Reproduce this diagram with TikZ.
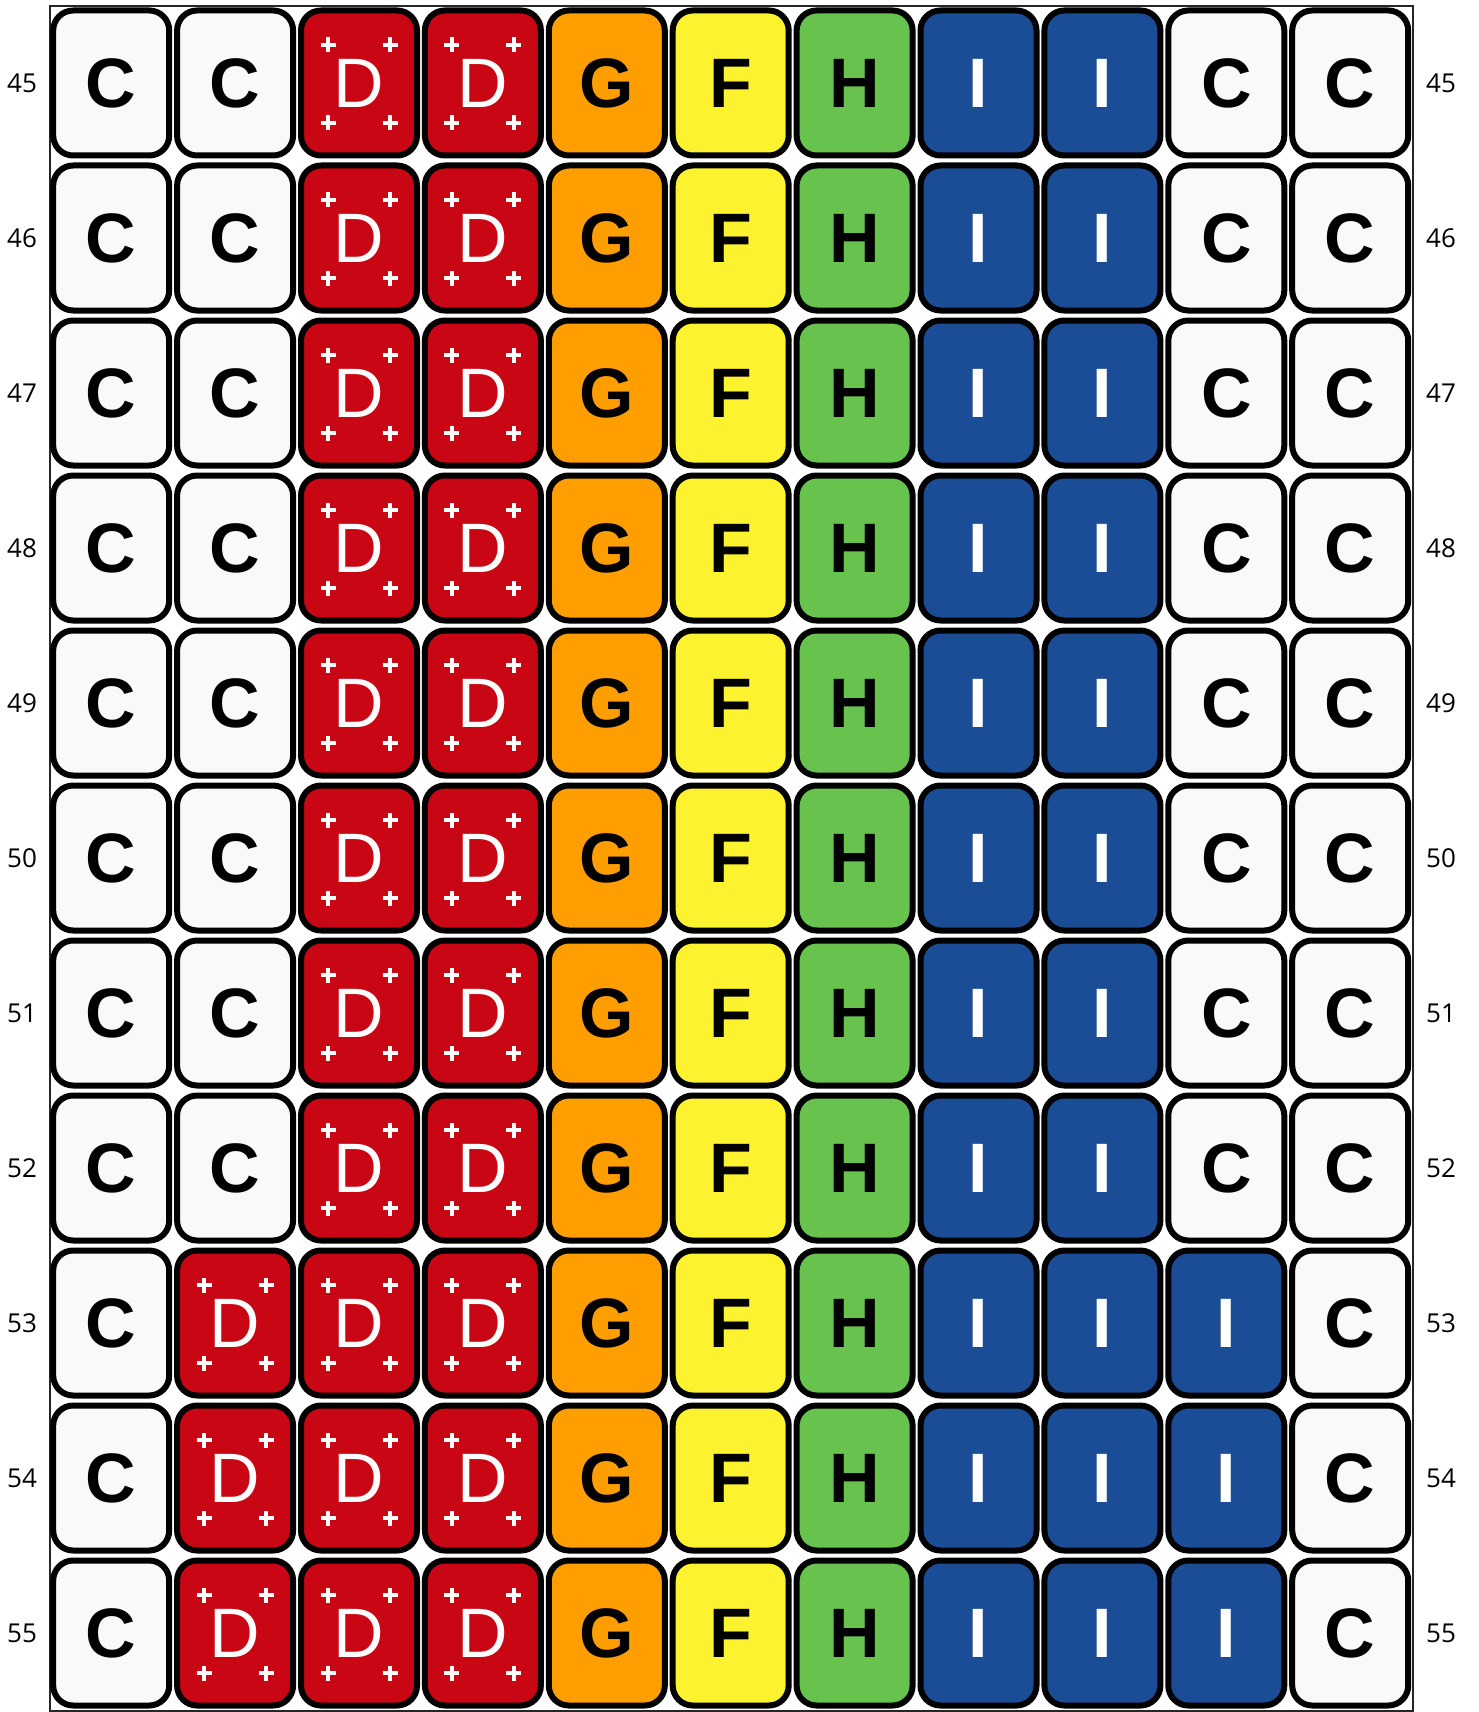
\documentclass[tikz,border=0pt]{standalone}
\usepackage{fontspec}
\newfontfamily\tilefont{Liberation Sans}
\newfontfamily\labelfont{Open Sans}
\usetikzlibrary{positioning,calc}
\definecolor{tgray}{HTML}{F9F9F9}
\definecolor{tred}{HTML}{C90613}
\definecolor{torange}{HTML}{FF9E00}
\definecolor{tyellow}{HTML}{FDF22F}
\definecolor{tgreen}{HTML}{67C24E}
\definecolor{tblue}{HTML}{1B4D96}

\tikzset{
  tile/.style={draw=black, line width=3pt, rounded corners=10pt,
    minimum width=58pt, minimum height=72.5pt, inner sep=0pt,
    font=\tilefont\fontsize{35}{35}\selectfont\bfseries},
  tileC/.style={tile, fill=tgray},
  tileD/.style={tile, fill=tred, text=white, font=\tilefont\fontsize{35}{35}\selectfont},
  tileG/.style={tile, fill=torange},
  tileF/.style={tile, fill=tyellow},
  tileH/.style={tile, fill=tgreen},
  tileI/.style={tile, fill=tblue, text=white},
  plusmark/.style={white, line width=2pt},
  rowlabel/.style={font=\labelfont\fontsize{13}{13}\selectfont},
  frame/.style={draw=black!85, line width=1pt}
}
% four small crosses round a D tile
\newcommand\dplus[1]{%
  \foreach \dx/\dy in {-31/-38,31/-38,-31/40,31/40}
    \draw[plusmark] ($(#1.center)+(\dx,\dy)$) +(-7.5,0) -- +(7.5,0) +(0,-7.5) -- +(0,7.5);}
\def\patA{C,C,D,D,G,F,H,I,I,C,C}
\def\patB{C,D,D,D,G,F,H,I,I,I,C}

\begin{document}
\begin{tikzpicture}[x=0.5pt, y=-0.5pt]
 \useasboundingbox (0,0) rectangle (1478,1712);
 \draw[frame] (50,6) rectangle (1413,1711);
 \foreach \rw [count=\i from 0] in {45,...,55} {
   \ifnum\rw<53 \let\pat\patA \else \let\pat\patB \fi
   \node[rowlabel] (L\rw) at (22,83+155*\i) {\rw};
   \node[rowlabel] (R\rw) at (1441,83+155*\i) {\rw};
   \foreach \k [count=\j from 0] in \pat {
     \node[tile\k] (t\rw-\j) at (111.2+123.9*\j,83+155*\i) {\k};
     \if\k D \dplus{t\rw-\j}\fi
   }
 }
\end{tikzpicture}
\end{document}
